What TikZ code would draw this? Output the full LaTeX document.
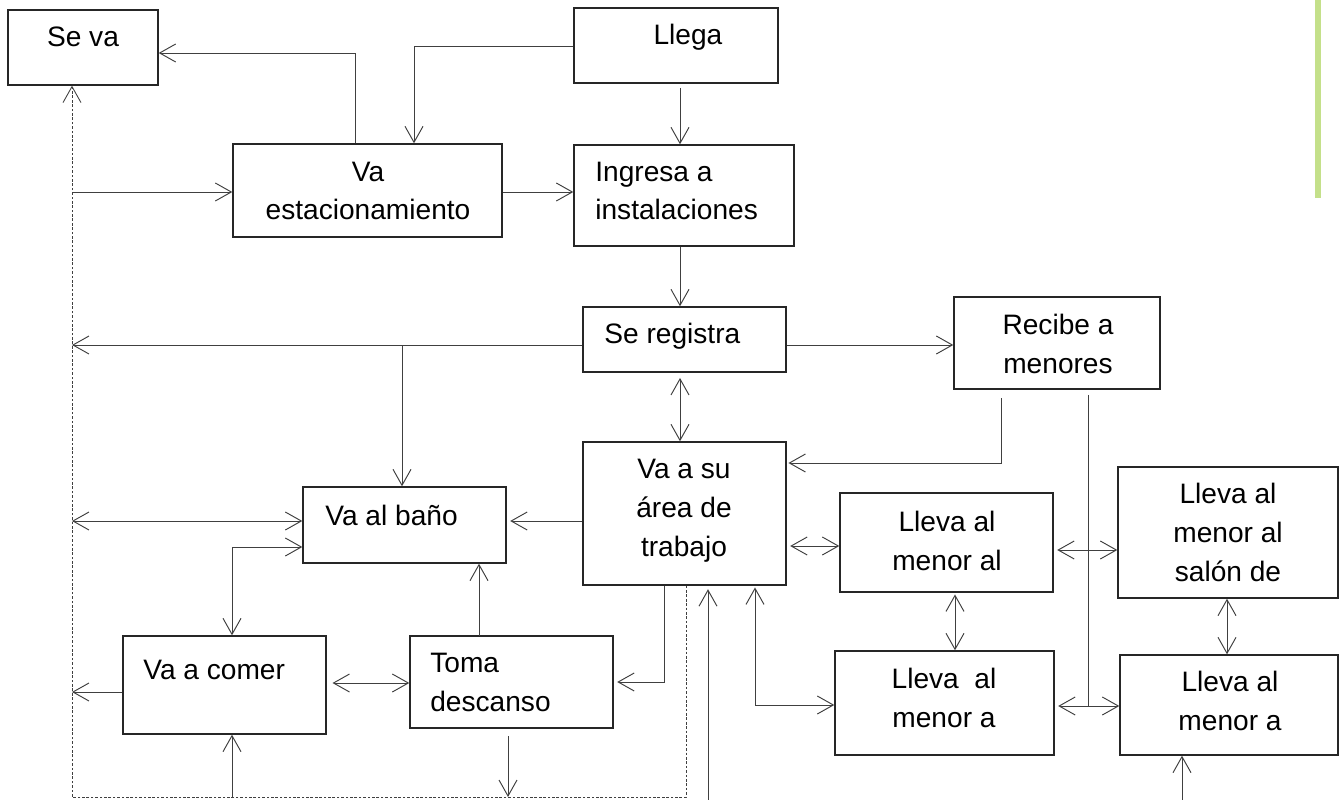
\documentclass[tikz,border=0pt]{standalone}
\usepackage{fontspec}
\setmainfont{Liberation Sans}
\usetikzlibrary{arrows.meta, fit}

\definecolor{barverde}{HTML}{C4E08A}

\begin{document}
\begin{tikzpicture}[x=0.02cm, y=-0.02cm,
    >={Straight Barb[length=3.2mm, width=3.6mm]},
    box/.style={draw=black!85, line width=0.8pt, inner sep=0pt},
    txt/.style={font=\fontsize{16}{22}\selectfont, align=center, inner sep=0pt, anchor=base},
    ltxt/.style={txt, align=left, anchor=base west},
    line/.style={draw=black!75, line width=0.55pt},
    conn/.style={line, ->},
    conn2/.style={line, <->},
    dots/.style={draw=black!75, line width=0.5pt, dash pattern=on 1.5pt off 1pt, ->}]
  \useasboundingbox (0,0) rectangle (1341,800);
  \fill[barverde] (1315,0) rectangle (1321,198);

  % cajas
  \node[box, fit={(8,10) (158,85)}] (seva) {};
  \node[box, fit={(574,8) (778,83)}] (llega) {};
  \node[box, fit={(233,144) (502,237)}] (vaest) {};
  \node[box, fit={(574,145) (794,246)}] (ingresa) {};
  \node[box, fit={(583,307) (786,372)}] (registra) {};
  \node[box, fit={(954,297) (1160,389)}] (recibe) {};
  \node[box, fit={(583,442) (786,585)}] (area) {};
  \node[box, fit={(303,487) (506,563)}] (bano) {};
  \node[box, fit={(123,636) (326,734)}] (comer) {};
  \node[box, fit={(410,636) (613,728)}] (descanso) {};
  \node[box, fit={(840,493) (1053,592)}] (llevaA) {};
  \node[box, fit={(1118,467) (1338,598)}] (llevaB) {};
  \node[box, fit={(835,651) (1054,755)}] (llevaC) {};
  \node[box, fit={(1120,655) (1338,755)}] (llevaD) {};

  % textos (base = ultima linea)
  \node[txt] (seva-t) at (83,47) {Se va};
  \node[txt] (llega-t) at (688,45) {Llega};
  \node[txt] (vaest-t) at (368,220) {Va\\estacionamiento};
  \node[ltxt] (ingresa-t) at (595,220) {Ingresa a\\instalaciones};
  \node[ltxt] (registra-t) at (604,343) {Se registra};
  \node[txt] (recibe-t) at (1058,373) {Recibe a\\menores};
  \node[txt] (area-t) at (684,556) {Va a su\\área de\\trabajo};
  \node[ltxt] (bano-t) at (325,525) {Va al baño};
  \node[ltxt] (comer-t) at (143,679) {Va a comer};
  \node[ltxt] (descanso-t) at (430,711) {Toma\\descanso};
  \node[txt] (llevaA-t) at (947,570) {Lleva al\\menor al};
  \node[txt] (llevaB-t) at (1228,581) {Lleva al\\menor al\\salón de};
  \node[txt] (llevaC-t) at (944,727) {Lleva\ \ al\\menor a};
  \node[txt] (llevaD-t) at (1230,730) {Lleva al\\menor a};

  % puntos de quiebre
  \coordinate (pA) at (414,46);
  \coordinate (pB) at (355,53);
  \coordinate (pC) at (680,88);
  \coordinate (pE) at (72,345);
  \coordinate (pF) at (402,345);
  \coordinate (pG) at (1001,463);
  \coordinate (pH) at (1088,706);
  \coordinate (pI) at (1056,550);
  \coordinate (pJ) at (790,546);
  \coordinate (pK) at (955,594);
  \coordinate (pL) at (1227,600);
  \coordinate (pM) at (755,705);
  \coordinate (pN) at (1182,800);
  \coordinate (pO) at (708,800);
  \coordinate (pP) at (72,521);
  \coordinate (pQ) at (232,547);
  \coordinate (pR) at (72,692);
  \coordinate (pS) at (329,683);
  \coordinate (pT) at (479,636);
  \coordinate (pU) at (664,682);
  \coordinate (pV) at (508,736);
  \coordinate (q1) at (686,797);
  \coordinate (q2) at (72,797);

  % conectores
  \draw[conn] (llega.west |- pA) -- (pA) -- (pA |- vaest.north);
  \draw[conn] (pB |- vaest.north) -- (pB) -- (pB -| seva.east);
  \draw[conn] (pC) -- (pC |- ingresa.north);
  \draw[conn] (vaest.east |- 0,192) -- (ingresa.west |- 0,192);
  \draw[conn] (pC |- ingresa.south) -- (pC |- registra.north);
  \draw[conn] (registra.west |- pE) -- (pE);
  \draw[conn] (pF) -- (pF |- bano.north);
  \draw[conn] (registra.east |- pE) -- (recibe.west |- pE);
  \draw[conn2, shorten <=3pt] (pC |- registra.south) -- (pC |- area.north);
  \draw[conn, shorten <=5pt, shorten >=1pt] (pG |- recibe.south) -- (pG) -- (pG -| area.east);
  \draw[line, shorten <=3pt] (pH |- recibe.south) -- (pH);
  \draw[conn2, shorten <=2pt] (llevaC.east |- pH) -- (llevaD.west |- pH);
  \draw[conn2, shorten <=2pt] (llevaA.east |- pI) -- (llevaB.west |- pI);
  \draw[conn2, shorten <=2pt] (area.east |- pJ) -- (llevaA.west |- pJ);
  \draw[conn2, shorten <=1pt] (pK |- llevaA.south) -- (pK |- llevaC.north);
  \draw[conn2] (pL |- llevaB.south) -- (pL |- llevaD.north);
  \draw[conn2, shorten <=1pt] (pM |- area.south) -- (pM) -- (pM -| llevaC.west);
  \draw[conn] (pN) -- (pN |- llevaD.south);
  \draw[conn, shorten >=2pt] (pO) -- (pO |- area.south);
  \draw[dots] (q1 |- area.south) -- (q1) -- (q2) -- (q2 |- seva.south);
  \draw[conn] (q2 |- 0,192) -- (vaest.west |- 0,192);
  \draw[conn2] (pP) -- (pP -| bano.west);
  \draw[conn, shorten >=2pt] (area.west |- pP) -- (bano.east |- pP);
  \draw[conn2] (pQ -| bano.west) -- (pQ) -- (pQ |- comer.north);
  \draw[conn] (comer.west |- pR) -- (pR);
  \draw[conn2, shorten <=2pt] (pS) -- (pS -| descanso.west);
  \draw[conn] (pQ |- q2) -- (pQ |- comer.south);
  \draw[conn] (pT) -- (pT |- bano.south);
  \draw[conn, shorten >=2pt] (pU |- area.south) -- (pU) -- (pU -| descanso.east);
  \draw[conn] (pV) -- (pV |- q2);
\end{tikzpicture}
\end{document}
